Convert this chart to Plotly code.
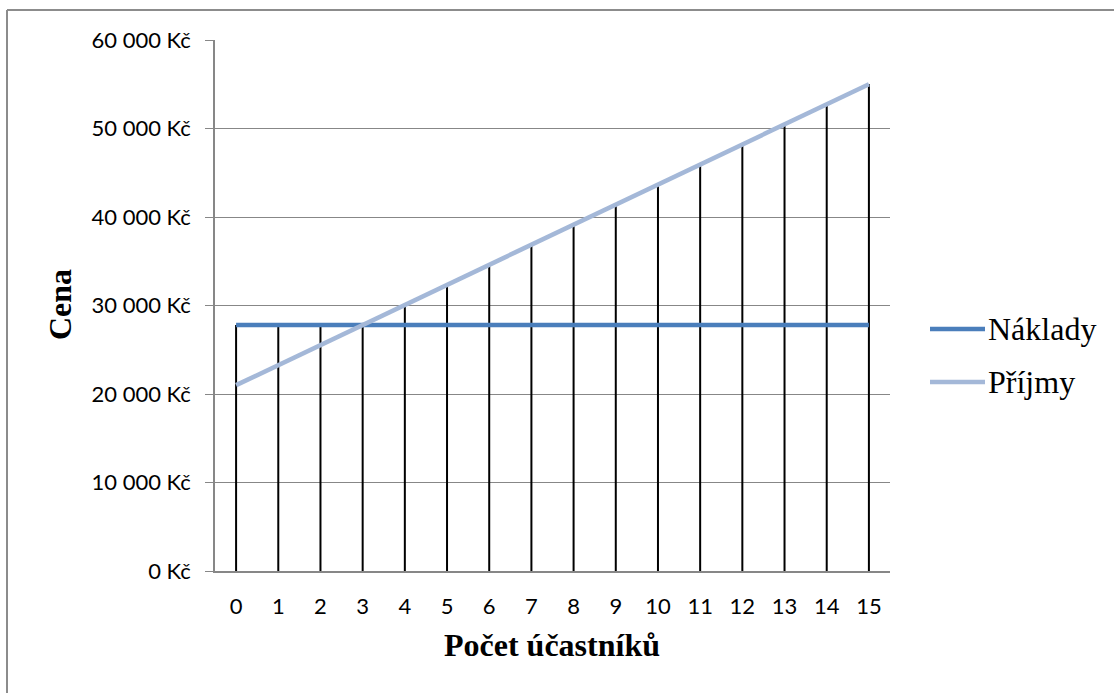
# Break-even chart: costs vs. revenue by number of participants

import plotly.graph_objects as go

# data
ucastnici = list(range(16))
naklady = [27800] * 16
prijmy = [21000, 23270, 25530, 27800, 30070, 32330, 34600, 36870,
          39130, 41400, 43670, 45930, 48200, 50470, 52730, 55000]

y_ticks = [0, 10000, 20000, 30000, 40000, 50000, 60000]
y_tick_labels = ["0 Kč", "10 000 Kč", "20 000 Kč", "30 000 Kč",
                 "40 000 Kč", "50 000 Kč", "60 000 Kč"]

series_names = ["Náklady", "Příjmy"]
series_colors = ["#4A7EBB", "#A4B8D8"]

GRID = "#878787"
TICK_FONT = dict(family="Lato, 'Open Sans', sans-serif", size=22, color="#000000")
SERIF = "'Liberation Serif', 'Times New Roman', serif"

# plot area in pixels (used to place things outside the axes)
PL, PR, PT, PB = 215, 890, 40, 571


def px_x(x):
    return (x - PL) / (PR - PL)


def px_y(y):
    return (PB - y) / (PB - PT)


# drop lines from the higher series down to the axis
drop_x, drop_y = [], []
for x, a, b in zip(ucastnici, naklady, prijmy):
    drop_x += [x, x, None]
    drop_y += [0, max(a, b), None]

fig = go.Figure()

fig.add_trace(go.Scatter(
    x=drop_x, y=drop_y, mode="lines",
    line=dict(color="#000000", width=2),
    showlegend=False, hoverinfo="skip"
))

for name, values, color in zip(series_names, [naklady, prijmy], series_colors):
    fig.add_trace(go.Scatter(
        x=ucastnici, y=values, mode="lines", name=name,
        line=dict(color=color, width=4.5),
        showlegend=False
    ))

# outer chart border (only top and left edge visible in the frame)
bx, by = px_x(7), px_y(10)
fig.add_shape(type="line", xref="paper", yref="paper",
              x0=bx, y0=by, x1=1.5, y1=by,
              line=dict(color="#8C8C8C", width=2))
fig.add_shape(type="line", xref="paper", yref="paper",
              x0=bx, y0=-0.3, x1=bx, y1=by,
              line=dict(color="#8C8C8C", width=2))

# legend drawn by hand so the sample lines are as long as in the original
for i, (name, color) in enumerate(zip(series_names, series_colors)):
    ly = px_y(329 + i * 53)
    fig.add_shape(type="line", xref="paper", yref="paper",
                  x0=px_x(930), x1=px_x(985), y0=ly, y1=ly,
                  line=dict(color=color, width=4.5))
    fig.add_annotation(x=px_x(986), y=ly, xref="paper", yref="paper",
                       text=name, showarrow=False,
                       xanchor="left", yanchor="middle",
                       font=dict(family=SERIF, size=32, color="#000000"))

# axis titles
fig.add_annotation(x=px_x(60), y=px_y(305), xref="paper", yref="paper",
                   text="<b>Cena</b>", showarrow=False, textangle=-90,
                   xanchor="center", yanchor="middle",
                   font=dict(family=SERIF, size=32, color="#000000"))
fig.add_annotation(x=px_x(552), y=px_y(645), xref="paper", yref="paper",
                   text="<b>Počet účastníků</b>", showarrow=False,
                   xanchor="center", yanchor="middle",
                   font=dict(family=SERIF, size=32, color="#000000"))

fig.update_layout(
    width=1114, height=693,
    margin=dict(l=PL, r=1114 - PR, t=PT, b=693 - PB),
    paper_bgcolor="white", plot_bgcolor="white",
    showlegend=False,
    xaxis=dict(
        type="linear", range=[-0.5, 15.5],
        tickvals=ucastnici, ticks="",
        showgrid=False, zeroline=False, automargin=False,
        showline=True, linecolor=GRID, linewidth=1.5,
        tickfont=TICK_FONT, ticklabelstandoff=15
    ),
    yaxis=dict(
        range=[0, 60000], tickvals=y_ticks, ticktext=y_tick_labels,
        ticks="outside", ticklen=8, tickcolor=GRID,
        showgrid=True, gridcolor=GRID, gridwidth=1,
        zeroline=False, automargin=False,
        showline=True, linecolor=GRID, linewidth=1.5,
        tickfont=TICK_FONT, ticklabelstandoff=10
    ),
)

fig.write_html("out.html", config={"displayModeBar": False},
               post_script="document.body.style.margin='0px';")
